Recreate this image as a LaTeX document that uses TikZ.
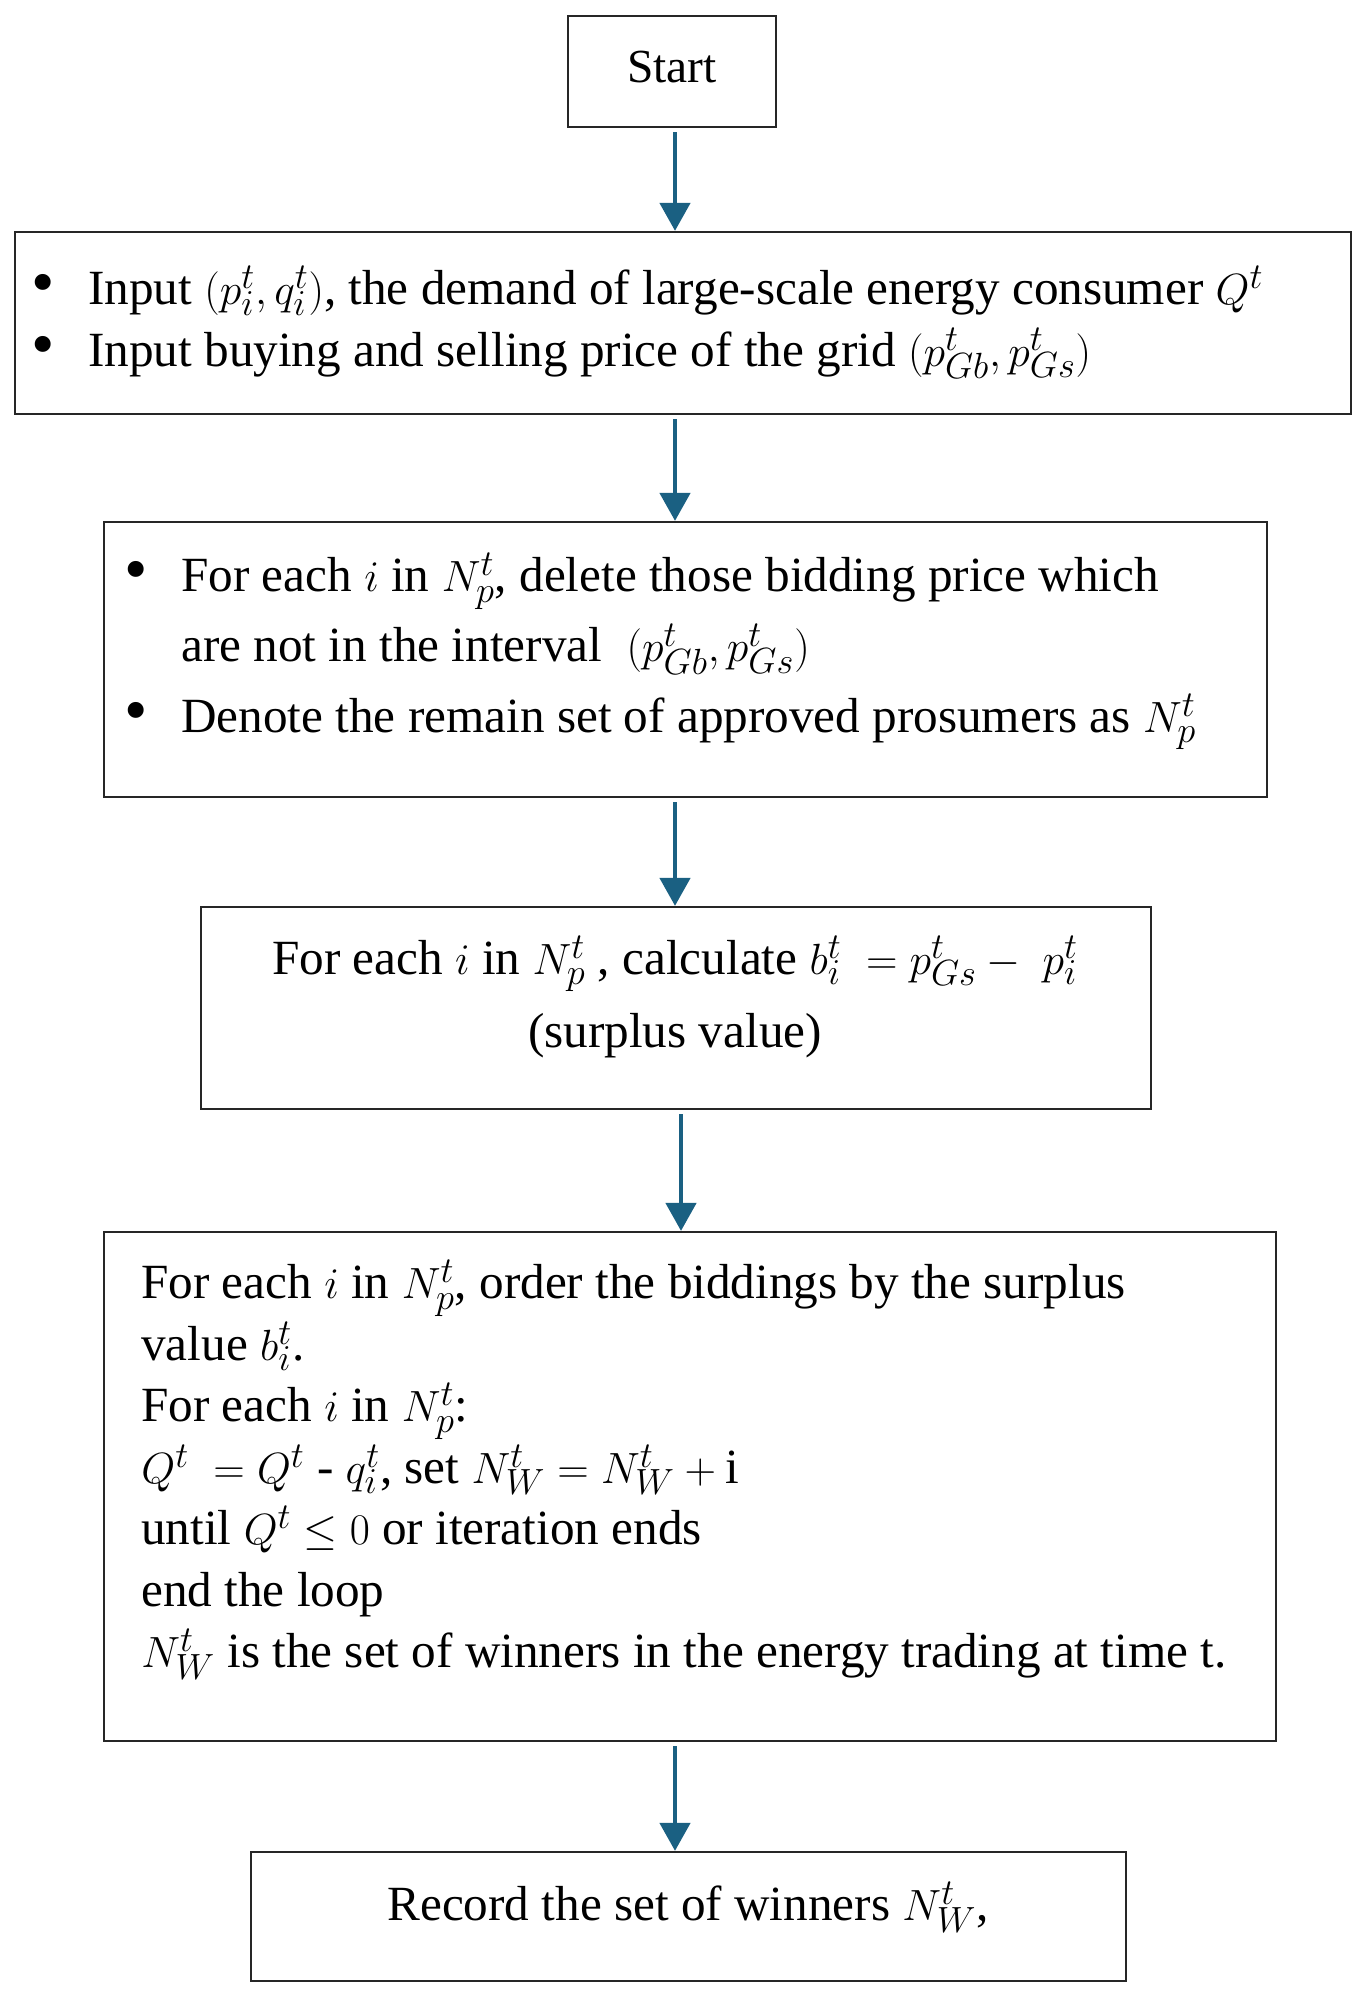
\documentclass[tikz,border=0pt]{standalone}
\usepackage{fontspec}
\setmainfont{Liberation Serif}
\usepackage{tikz}
\usetikzlibrary{arrows.meta,positioning,calc}
\definecolor{flowblue}{RGB}{26,96,130}
\tikzset{
    box/.style={draw=black!85, line width=1.3pt, rectangle, inner sep=0pt},
    flow/.style={-{Triangle[length=0.56cm, width=0.6cm]}, line width=2.6pt, flowblue, shorten <=0.08cm},
    txt/.style={inner sep=0pt, align=left, anchor=north west}
}
\newcommand{\bul}{\makebox[1.04cm][l]{\hspace{-0.1cm}{\fontsize{38}{0}\selectfont\textbullet}}}

\begin{document}
\begin{tikzpicture}[x=0.02cm, y=-0.02cm, font=\fontsize{28}{35}\selectfont]
    \useasboundingbox (0,0) rectangle (1368,1997);
    % boxes
    \node[box, minimum width=4.16cm, minimum height=2.22cm, text depth=0.2cm, font=\fontsize{27}{35}\selectfont] (start) at (672,71.5) {Start};
    \node[box, minimum width=26.72cm, minimum height=3.64cm] (input) at (683,323) {};
    \node[box, minimum width=23.26cm, minimum height=5.5cm] (filter) at (685.5,659.5) {};
    \node[box, minimum width=19cm, minimum height=4.04cm] (surplus) at (676,1008) {};
    \node[box, minimum width=23.44cm, minimum height=10.18cm] (order) at (690,1486.5) {};
    \node[box, minimum width=17.5cm, minimum height=2.58cm] (record) at (688.5,1916.5) {};
    % texts
    \node[txt] (inputtxt) at (36,266) {\bul Input $(p_i^t,q_i^t)$, the demand of large-scale energy consumer $Q^t$\\
        \bul Input buying and selling price of the grid $(p_{Gb}^t,p_{Gs}^t)$};
    \node[txt, font=\fontsize{28}{40}\selectfont] (filtertxt) at (129,553) {\bul For each $i$ in $N_p^t$, delete those bidding price which\\
        \hspace*{1.04cm}are not in the interval \ $(p_{Gb}^t,p_{Gs}^t)$\\
        \bul Denote the remain set of approved prosumers as $N_p^t$};
    \node[inner sep=0pt, align=center, font=\fontsize{28}{42}\selectfont] (surplustxt) at (675,997) {For each $i$ in $N_p^t$ , calculate $b_i^t\ = p_{Gs}^t -\ p_i^t$\\(surplus value)};
    \node[txt] (ordertxt) at (141,1260) {For each $i$ in $N_p^t$, order the biddings by the surplus\\
        value $b_i^t$.\\
        For each $i$ in $N_p^t$:\\
        $Q^t\ = Q^t$ - $q_i^t$, set $N_W^t = N_W^t + \mathrm{i}$\\
        until $Q^t \le 0$ or iteration ends\\
        end the loop\\
        $N_W^t$ is the set of winners in the energy trading at time t.};
    \node[inner sep=0pt] (recordtxt) at (688,1907) {Record the set of winners $N_W^t$,};
    % arrows
    \draw[flow] ([xshift=0.06cm]start.south) -- ([xshift=0.06cm]start.south |- input.north);
    \draw[flow] ([xshift=0.06cm]input.south -| start.south) -- ([xshift=0.06cm]filter.north -| start.south);
    \draw[flow] ([xshift=0.06cm]filter.south -| start.south) -- ([xshift=0.06cm]surplus.north -| start.south);
    \draw[flow] ([xshift=0.1cm]surplus.south) -- ([xshift=0.1cm]surplus.south |- order.north);
    \draw[flow] ([xshift=0.06cm]order.south -| start.south) -- ([xshift=0.06cm]record.north -| start.south);
\end{tikzpicture}
\end{document}
